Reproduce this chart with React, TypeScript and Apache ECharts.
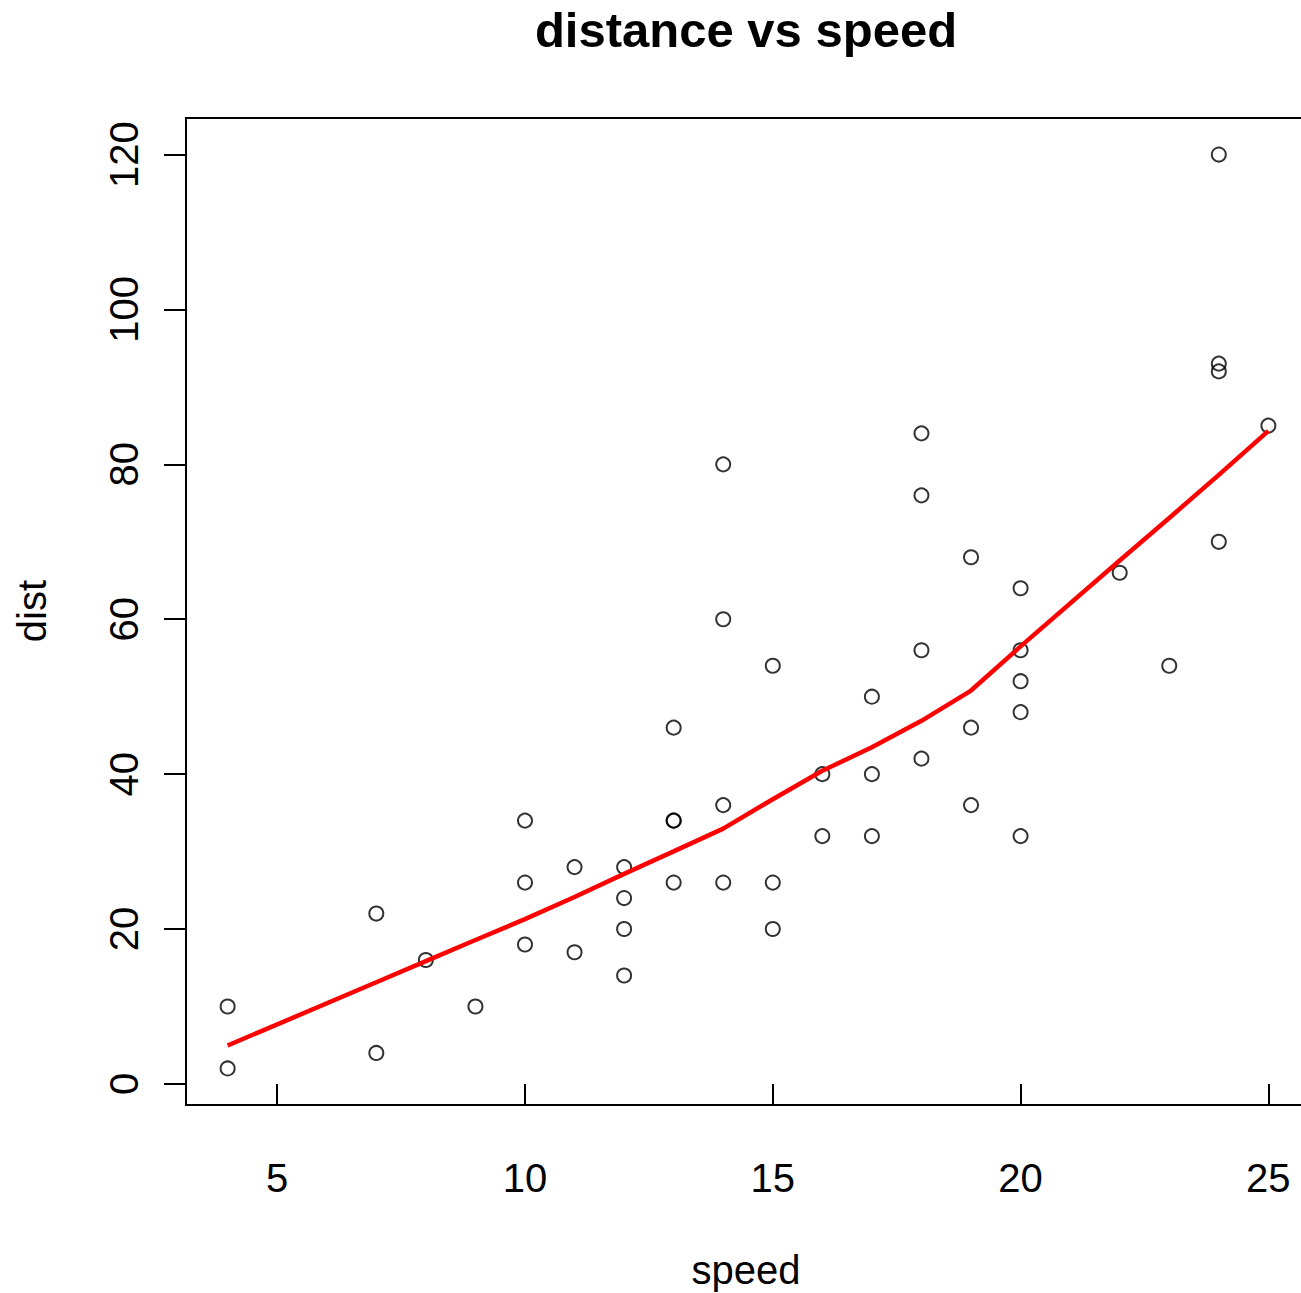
import React, { useEffect, useRef } from "react";
import * as echarts from "echarts";

const speed = [4, 4, 7, 7, 8, 9, 10, 10, 10, 11, 11, 12, 12, 12, 12, 13, 13, 13, 13, 14, 14, 14, 14, 15, 15, 15, 16, 16, 17, 17, 17, 18, 18, 18, 18, 19, 19, 19, 20, 20, 20, 20, 20, 22, 23, 24, 24, 24, 24, 25];
const dist = [2, 10, 4, 22, 16, 10, 18, 26, 34, 17, 28, 14, 20, 24, 28, 26, 34, 34, 46, 26, 36, 60, 80, 20, 26, 54, 32, 40, 32, 40, 50, 42, 56, 76, 84, 36, 46, 68, 32, 48, 52, 56, 64, 66, 54, 70, 92, 93, 120, 85];

const lowessX = [4, 7, 8, 9, 10, 11, 12, 13, 14, 15, 16, 17, 18, 19, 20, 22, 23, 24, 25];
const lowessY = [4.965, 13.124, 15.859, 18.58, 21.28, 24.129, 27.12, 30.027, 32.963, 36.758, 40.435, 43.463, 46.885, 50.793, 56.491, 67.586, 73.08, 78.643, 84.329];

const xTicks = [5, 10, 15, 20, 25];
const yTicks = [0, 20, 40, 60, 80, 100, 120];

const FONT = "'Liberation Sans', Arial, sans-serif";

export default function App() {
  const ref = useRef<HTMLDivElement>(null);
  useEffect(() => {
    document.body.style.margin = "0";
    const chart = echarts.init(ref.current!, null, { renderer: "svg" });
    chart.setOption({
      animation: false,
      backgroundColor: "#fff",
      grid: {
        left: 186,
        top: 118,
        width: 1124,
        height: 987,
        show: true,
        borderColor: "#000",
        borderWidth: 2,
        backgroundColor: "transparent",
      },
      xAxis: {
        type: "value",
        min: 3.16,
        max: 25.84,
        splitLine: { show: false },
        axisLine: { show: false },
        axisTick: { show: true, customValues: xTicks, length: 22, inside: false, lineStyle: { color: "#000", width: 2 } },
        axisLabel: { customValues: xTicks, color: "#000", fontSize: 40, fontFamily: FONT, margin: 53 },
      },
      yAxis: {
        type: "value",
        min: -2.72,
        max: 124.72,
        splitLine: { show: false },
        axisLine: { show: false },
        axisTick: { show: true, customValues: yTicks, length: 22, inside: false, lineStyle: { color: "#000", width: 2 } },
        axisLabel: { customValues: yTicks, color: "#000", fontSize: 40, fontFamily: FONT, margin: 42, rotate: 90 },
      },
      graphic: [
        { type: "text", x: 746, y: 30, style: { text: "distance vs speed", font: `bold 49px ${FONT}`, fill: "#000", textAlign: "center", textVerticalAlign: "middle" } },
        { type: "text", x: 746, y: 1270, style: { text: "speed", font: `40px ${FONT}`, fill: "#000", textAlign: "center", textVerticalAlign: "middle" } },
        { type: "text", x: 32, y: 611, rotation: Math.PI / 2, style: { text: "dist", font: `40px ${FONT}`, fill: "#000", textAlign: "center", textVerticalAlign: "middle" } },
      ],
      series: [
        {
          type: "scatter",
          data: speed.map((s, i) => [s, dist[i]]),
          symbol: "circle",
          symbolSize: 14,
          itemStyle: { color: "transparent", borderColor: "#000", borderWidth: 2 },
          z: 3,
        },
        {
          type: "line",
          data: lowessX.map((x, i) => [x, lowessY[i]]),
          showSymbol: false,
          symbol: "none",
          lineStyle: { color: "#ff0000", width: 4.5 },
          z: 4,
        },
      ],
    });
    return () => chart.dispose();
  }, []);
  return (
    <div style={{ width: 1301, height: 1293, overflow: "hidden", position: "relative" }}>
      <div ref={ref} style={{ width: 1312, height: 1293 }} />
    </div>
  );
}
